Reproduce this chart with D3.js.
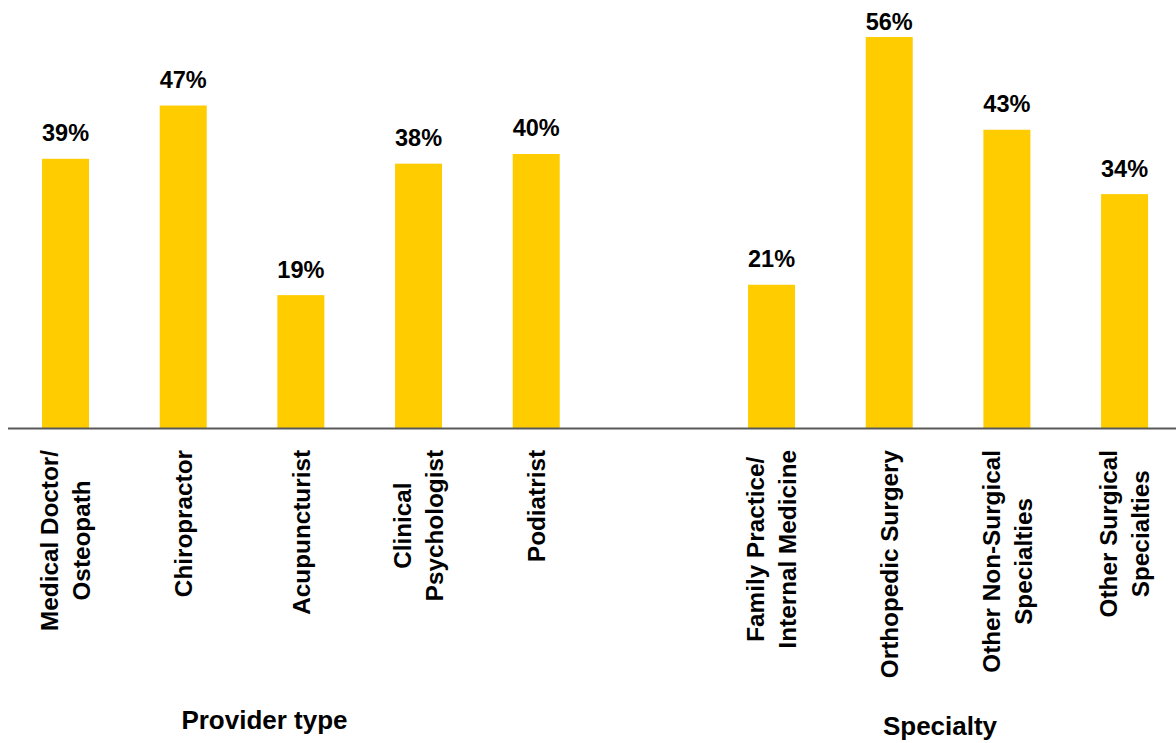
<!DOCTYPE html>
<html><head><meta charset="utf-8">
<script src="https://cdn.jsdelivr.net/npm/d3@7"></script>
<style>
html,body{margin:0;padding:0;background:#fff;}
svg{display:block;font-family:"Liberation Sans",Arial,sans-serif;}
</style></head>
<body>
<svg id="chart" width="1176" height="743"></svg>
<script>
// Data
const categories = ["Medical Doctor/|Osteopath","Chiropractor","Acupuncturist","Clinical|Psychologist","Podiatrist","__gap__","Family Practice/|Internal Medicine","Orthopedic Surgery","Other Non-Surgical|Specialties","Other Surgical|Specialties"];
const values = [38.9,46.6,19.2,38.2,39.6,null,20.7,56.5,43.1,33.8];
const valueLabels = ["39%","47%","19%","38%","40%","","21%","56%","43%","34%"];
const groups = ["Provider type","Specialty"];
const groupCenters = [264.5, 940];

const svg = d3.select("#chart");
const baseY = 428;
const x = d3.scaleBand().domain(d3.range(categories.length)).range([6.7, 1183.4]).paddingInner(0.6006).paddingOuter(0.3003);
const y = d3.scaleLinear().domain([0,60]).range([baseY, baseY - 415.2]);

const data = values.map((v,i)=>({i,v,label:valueLabels[i],cat:categories[i]})).filter(d=>d.v!==null);

svg.selectAll("rect.bar").data(data).join("rect").attr("class","bar")
  .attr("x",d=>x(d.i)).attr("width",x.bandwidth())
  .attr("y",d=>y(d.v)).attr("height",d=>baseY-y(d.v))
  .attr("fill","#FFCC00");

svg.selectAll("text.val").data(data).join("text").attr("class","val")
  .attr("x",d=>x(d.i)+x.bandwidth()/2)
  .attr("y",d=>Math.max(y(d.v)-17.5, 29.5))
  .attr("text-anchor","middle").attr("font-weight","bold").attr("font-size",23.5)
  .attr("fill","#000").text(d=>d.label);

// axis line
svg.append("line").attr("x1",8).attr("x2",1176).attr("y1",baseY+0.5).attr("y2",baseY+0.5)
  .attr("stroke","#595959").attr("stroke-width",1.8);

// category labels (rotated)
const lineGap = 32;
data.forEach(d=>{
  const lines = d.cat.split("|");
  const cx = x(d.i)+x.bandwidth()/2;
  const g = svg.append("g").attr("transform",`translate(${cx},0) rotate(-90)`);
  const texts = lines.map((ln,k)=>g.append("text").attr("font-weight","bold").attr("font-size",24.3)
     .attr("text-anchor","middle").attr("fill","#000").text(ln)
     .attr("y",(k-(lines.length-1)/2)*lineGap).attr("dy","0.36em"));
  const maxLen = d3.max(texts,t=>t.node().getComputedTextLength());
  texts.forEach(t=>t.attr("x",-(450+maxLen/2)));
});

// group titles
const gy = [729,735];
groups.forEach((gname,k)=>{
  svg.append("text").attr("x",groupCenters[k]).attr("y",gy[k]).attr("text-anchor","middle")
    .attr("font-weight","bold").attr("font-size",26).attr("fill","#000").text(gname);
});
</script>
</body></html>
